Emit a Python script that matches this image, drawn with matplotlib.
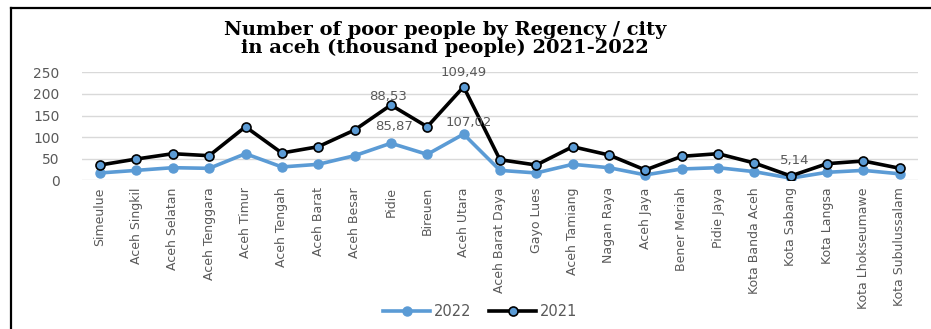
import numpy as np
import matplotlib
matplotlib.use("Agg")
import matplotlib.pyplot as plt
from matplotlib.lines import Line2D

regions = ["Simeulue", "Aceh Singkil", "Aceh Selatan", "Aceh Tenggara", "Aceh Timur",
           "Aceh Tengah", "Aceh Barat", "Aceh Besar", "Pidie", "Bireuen", "Aceh Utara",
           "Aceh Barat Daya", "Gayo Lues", "Aceh Tamiang", "Nagan Raya", "Aceh Jaya",
           "Bener Meriah", "Pidie Jaya", "Kota Banda Aceh", "Kota Sabang", "Kota Langsa",
           "Kota Lhokseumawe", "Kota Subulussalam"]

# values in thousand people (the chart stacks 2021 on top of 2022)
poor_2022 = [17.0, 23.0, 29.2, 27.7, 61.6, 30.9, 37.0, 57.0, 85.87, 60.0, 107.02,
             23.0, 17.0, 37.0, 29.2, 12.5, 26.2, 29.2, 20.0, 4.9, 18.5, 23.0, 15.0]
poor_2021 = [18.4, 26.3, 32.4, 29.3, 62.4, 32.3, 40.8, 59.4, 88.53, 64.0, 109.49,
             24.7, 18.4, 40.8, 29.4, 11.3, 29.3, 32.4, 20.0, 5.14, 20.0, 21.7, 12.8]

ticks_y = [0, 50, 100, 150, 200, 250]

blue = "#5B9BD5"
gray = "#595959"

fig = plt.figure(figsize=(9.31, 3.29), dpi=100)
ax = fig.add_axes([0.088, 0.452, 0.898, 0.328])

x = np.arange(len(regions))
y22 = np.array(poor_2022)
y21 = y22 + np.array(poor_2021)

ax.plot(x, y22, color=blue, lw=2.6, marker="o", ms=6.5, mfc=blue, mec=blue,
        label="2022", zorder=3)
ax.plot(x, y21, color="black", lw=2.6, marker="o", ms=6.5, mfc=blue, mec="black",
        mew=1.2, label="2021", zorder=4)

# data labels
lbl = dict(textcoords="offset points", ha="center", va="center",
           color=gray, fontsize=9.5, zorder=5)
ax.annotate("88,53", (8, y21[8]), xytext=(-2, 6), **lbl)
ax.annotate("85,87", (8, y22[8]), xytext=(2, 12), **lbl)
ax.annotate("109,49", (10, y21[10]), xytext=(0, 10), **lbl)
ax.annotate("107,02", (10, y22[10]), xytext=(4, 8), **lbl)
ax.annotate("5,14", (19, y21[19]), xytext=(3, 11), **lbl)

ax.set_ylim(0, 250)
ax.set_xlim(-0.5, len(regions) - 0.5)
ax.set_yticks(ticks_y)
ax.set_xticks(x)
ax.set_xticklabels(regions, rotation=90, fontsize=9, color=gray)
ax.tick_params(axis="y", labelsize=10, labelcolor=gray, length=0, pad=16)
ax.tick_params(axis="x", length=0, pad=5)
ax.grid(axis="y", color="#D9D9D9", lw=1)
ax.set_axisbelow(True)
for s in ax.spines.values():
    s.set_visible(False)

fig.text(0.478, 0.881, "Number of poor people by Regency / city\nin aceh (thousand people) 2021-2022",
         ha="center", va="center", fontsize=14, fontweight="bold",
         family="DejaVu Serif", linespacing=1.0)

leg = ax.legend(loc="center", ncol=2, frameon=False, fontsize=10.5, handlelength=3.2,
                columnspacing=1.2, handletextpad=0.3)
for t in leg.get_texts():
    t.set_color(gray)
leg.set_bbox_to_anchor((0.516, 0.052), transform=fig.transFigure)

# outer frame
fig.add_artist(Line2D([0.0115, 1.0], [0.9757, 0.9757], color="black", lw=1.6,
                      transform=fig.transFigure))
fig.add_artist(Line2D([0.0115, 0.0115], [0.0, 0.9757], color="black", lw=1.6,
                      transform=fig.transFigure))

fig.savefig("out.png", dpi=100)
